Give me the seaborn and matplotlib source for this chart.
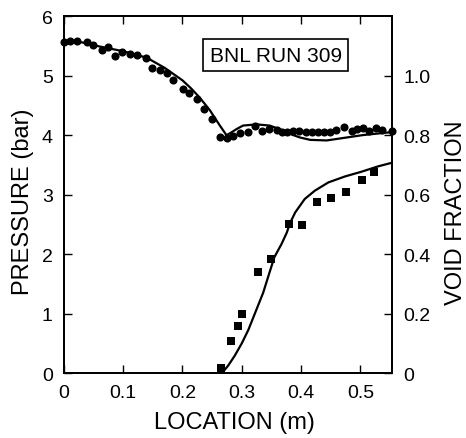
import numpy as np
import pandas as pd
import matplotlib
matplotlib.use("Agg")
import matplotlib.pyplot as plt
import seaborn as sns

# Measured pressure along the channel (bar)
p_loc = [0.000, 0.010, 0.022, 0.039, 0.049, 0.064, 0.074, 0.086, 0.098, 0.111,
         0.123, 0.138, 0.149, 0.162, 0.174, 0.184, 0.201, 0.211, 0.224, 0.236,
         0.250, 0.263, 0.275, 0.285, 0.297, 0.310, 0.323, 0.334, 0.346, 0.359,
         0.368, 0.377, 0.386, 0.396, 0.408, 0.418, 0.428, 0.438, 0.449, 0.459,
         0.473, 0.486, 0.495, 0.505, 0.515, 0.526, 0.536, 0.553]
p_meas = [5.56, 5.58, 5.59, 5.56, 5.51, 5.43, 5.48, 5.33, 5.40, 5.36,
          5.34, 5.29, 5.12, 5.09, 5.05, 4.92, 4.77, 4.70, 4.60, 4.44,
          4.27, 3.97, 3.95, 3.98, 4.03, 4.06, 4.15, 4.07, 4.10, 4.08,
          4.06, 4.05, 4.07, 4.07, 4.06, 4.05, 4.05, 4.05, 4.06, 4.08,
          4.13, 4.07, 4.10, 4.12, 4.07, 4.12, 4.09, 4.07]

# Calculated pressure profile (bar)
pc_loc = [0.000, 0.030, 0.060, 0.100, 0.140, 0.170, 0.200, 0.215, 0.229, 0.246,
          0.263, 0.274, 0.280, 0.291, 0.302, 0.325, 0.347, 0.364, 0.381, 0.398,
          0.415, 0.443, 0.477, 0.504, 0.533, 0.553]
pc_calc = [5.56, 5.56, 5.49, 5.41, 5.30, 5.13, 4.92, 4.78, 4.63, 4.42,
           4.16, 4.00, 4.03, 4.10, 4.16, 4.18, 4.16, 4.10, 4.02, 3.96,
           3.92, 3.91, 3.96, 4.00, 4.03, 4.05]

# Measured void fraction
v_loc = [0.265, 0.281, 0.294, 0.301, 0.327, 0.350, 0.380, 0.402, 0.427, 0.451,
         0.475, 0.502, 0.523]
v_meas = [0.017, 0.108, 0.159, 0.198, 0.340, 0.385, 0.500, 0.497, 0.576, 0.590,
          0.607, 0.650, 0.675]

# Calculated void fraction
vc_loc = [0.263, 0.270, 0.277, 0.288, 0.300, 0.311, 0.322, 0.336, 0.347, 0.355,
          0.367, 0.376, 0.381, 0.390, 0.406, 0.423, 0.446, 0.474, 0.502, 0.530,
          0.553]
vc_calc = [0.000, 0.008, 0.025, 0.058, 0.100, 0.145, 0.200, 0.270, 0.340, 0.390,
           0.434, 0.473, 0.503, 0.540, 0.585, 0.613, 0.641, 0.661, 0.677, 0.695,
           0.707]

x_ticks = [0, 0.1, 0.2, 0.3, 0.4, 0.5]
x_tick_labels = ["0", "0.1", "0.2", "0.3", "0.4", "0.5"]
p_ticks = [0, 1, 2, 3, 4, 5, 6]
v_ticks = [0, 0.2, 0.4, 0.6, 0.8, 1.0]
v_tick_labels = ["0", "0.2", "0.4", "0.6", "0.8", "1.0"]

sns.set_theme(style="ticks")
plt.rcParams["font.family"] = ["Liberation Sans", "DejaVu Sans"]
plt.rcParams.update({"text.color": "black", "axes.labelcolor": "black",
                     "xtick.color": "black", "ytick.color": "black",
                     "axes.edgecolor": "black"})

fig = plt.figure(figsize=(4.66, 4.39), dpi=100)
ax = fig.add_axes([0.137, 0.148, 0.704, 0.813])
ax2 = ax.twinx()

pm = pd.DataFrame({"loc": p_loc, "p": p_meas})
pc = pd.DataFrame({"loc": pc_loc, "p": pc_calc})
vm = pd.DataFrame({"loc": v_loc, "v": v_meas})
vc = pd.DataFrame({"loc": vc_loc, "v": vc_calc})

sns.lineplot(data=pc, x="loc", y="p", ax=ax, color="black", lw=1.6,
             sort=False, estimator=None)
sns.scatterplot(data=pm, x="loc", y="p", ax=ax, color="black", marker="o",
                s=34, edgecolor="black", linewidth=0, zorder=3, clip_on=False)
sns.lineplot(data=vc, x="loc", y="v", ax=ax2, color="black", lw=1.6,
             sort=False, estimator=None)
sns.scatterplot(data=vm, x="loc", y="v", ax=ax2, color="black", marker="s",
                s=26, edgecolor="black", linewidth=0, zorder=3)

ax.set_xlim(0, 0.553)
ax.set_ylim(0, 6)
ax2.set_ylim(0, 1.2)

ax.set_xticks(x_ticks)
ax.set_xticklabels(x_tick_labels)
ax.set_yticks(p_ticks)
ax2.set_yticks(v_ticks)
ax2.set_yticklabels(v_tick_labels)

ax.tick_params(axis="x", direction="in", length=6, width=1, pad=8,
               labelsize=14, top=True, bottom=True, colors="black")
ax.tick_params(axis="y", direction="in", length=6, width=1, pad=8,
               labelsize=14, left=True, right=False, colors="black")
ax2.tick_params(axis="y", direction="in", length=6, width=1, pad=8,
                labelsize=14, right=True, colors="black")

for a in (ax, ax2):
    for s in a.spines.values():
        s.set_linewidth(1.3)
        s.set_color("black")

ax.set_xlabel("LOCATION (m)", fontsize=17, color="black")
ax.set_ylabel("PRESSURE (bar)", fontsize=17, color="black")
ax2.set_ylabel("VOID FRACTION", fontsize=17, color="black")
ax.xaxis.set_label_coords(0.521, -0.106)
ax.yaxis.set_label_coords(-0.091, 0.482)
ax2.yaxis.set_label_coords(1.162, 0.451)

ax.text(0.646, 0.891, "BNL RUN 309", transform=ax.transAxes, fontsize=15,
        ha="center", va="center", color="black",
        bbox=dict(boxstyle="square,pad=0.3", facecolor="white",
                  edgecolor="black", linewidth=1.2))

fig.savefig("out.png", dpi=100)
